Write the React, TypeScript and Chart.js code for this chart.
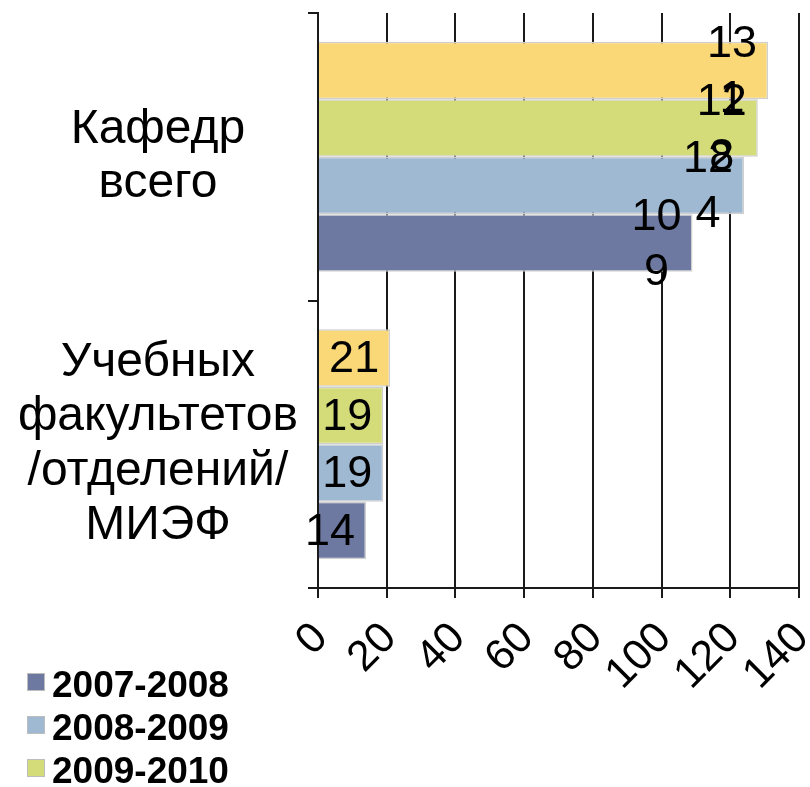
import React, { useEffect, useRef } from 'react';
import { Chart, registerables } from 'chart.js';

Chart.register(...registerables);

const categories = [
  ['Кафедр', 'всего'],
  ['Учебных', 'факультетов', '/отделений/', 'МИЭФ'],
];
const seriesNames = ['2007-2008', '2008-2009', '2009-2010', '2010-2011'];
const values2007 = [109, 14];
const values2008 = [124, 19];
const values2009 = [128, 19];
const values2010 = [131, 21];
const seriesValues = [values2007, values2008, values2009, values2010];
const seriesColors = ['#6E79A1', '#A0B9D2', '#D4DC7A', '#FAD877'];
const xMin = 0;
const xMax = 140;
const xStep = 20;

const FONT = '"Liberation Sans", Arial, sans-serif';

const dataLabelPlugin = {
  id: 'dataLabels',
  afterDatasetsDraw(chart: any) {
    const ctx = chart.ctx;
    ctx.save();
    ctx.font = `45px ${FONT}`;
    ctx.fillStyle = '#000';
    ctx.textAlign = 'center';
    ctx.textBaseline = 'middle';
    chart.data.datasets.forEach((ds: any, di: number) => {
      const meta = chart.getDatasetMeta(di);
      meta.data.forEach((el: any, i: number) => {
        const txt = String(ds.data[i]);
        const lines: string[] = [];
        for (let k = 0; k < txt.length; k += 2) lines.push(txt.slice(k, k + 2));
        const lh = 55;
        const x = el.x - 36;
        lines.forEach((ln, li) => {
          ctx.fillText(ln, x, el.y + 2 + (li - (lines.length - 1) / 2) * lh);
        });
      });
    });
    ctx.restore();
  },
};

const legendPlugin = {
  id: 'sideLegend',
  afterDraw(chart: any) {
    const ctx = chart.ctx;
    const items = chart.data.datasets.slice().reverse();
    ctx.save();
    ctx.font = `bold 37px ${FONT}`;
    ctx.textBaseline = 'alphabetic';
    ctx.textAlign = 'left';
    items.forEach((d: any, i: number) => {
      const baseY = 697 + i * 43;
      ctx.fillStyle = d.backgroundColor;
      ctx.fillRect(27, baseY - 24, 18, 18);
      ctx.strokeStyle = '#bdbdbd';
      ctx.lineWidth = 1;
      ctx.strokeRect(27.5, baseY - 23.5, 17, 17);
      ctx.fillStyle = '#000';
      ctx.fillText(d.label, 52, baseY);
    });
    ctx.restore();
  },
};

export default function App() {
  const ref = useRef<HTMLCanvasElement>(null);

  useEffect(() => {
    if (!ref.current) return;
    const order = [3, 2, 1, 0];
    const chart = new Chart(ref.current, {
      type: 'bar',
      data: {
        labels: categories as any,
        datasets: order.map((si) => ({
          label: seriesNames[si],
          data: seriesValues[si],
          backgroundColor: seriesColors[si],
          borderColor: '#cfcfcf',
          borderWidth: 1.5,
          categoryPercentage: 0.8,
          barPercentage: 1.0,
        })),
      },
      options: {
        indexAxis: 'y',
        animation: false,
        responsive: true,
        maintainAspectRatio: false,
        layout: { padding: { top: 13, right: 11, left: 0, bottom: 0 } },
        plugins: {
          legend: { display: false },
          tooltip: { enabled: false },
        },
        scales: {
          x: {
            min: xMin,
            max: xMax,
            ticks: {
              stepSize: xStep,
              autoSkip: false,
              minRotation: 45,
              maxRotation: 45,
              padding: 15,
              labelOffset: 3,
              color: '#000',
              font: { size: 43, family: FONT },
            },
            grid: { color: '#1a1a1a', lineWidth: 2, tickLength: 10 },
            border: { color: '#1a1a1a', width: 2 },
            afterFit: (s: any) => {
              s.height = 199;
              s.paddingLeft = 0;
              s.paddingRight = 0;
            },
          },
          y: {
            ticks: {
              crossAlign: 'center',
              padding: 10,
              color: '#000',
              font: { size: 48, family: FONT, lineHeight: 1.13 },
            },
            grid: { drawOnChartArea: false, color: '#1a1a1a', lineWidth: 2, tickLength: 10 },
            border: { color: '#1a1a1a', width: 2 },
            afterFit: (s: any) => {
              s.width = 318;
              s.paddingTop = 0;
              s.paddingBottom = 0;
            },
          },
        },
      },
      plugins: [dataLabelPlugin, legendPlugin],
    });
    return () => chart.destroy();
  }, []);

  return (
    <div style={{ position: 'absolute', left: 0, top: 0, width: 810, height: 787, background: '#fff' }}>
      <canvas ref={ref} />
    </div>
  );
}
